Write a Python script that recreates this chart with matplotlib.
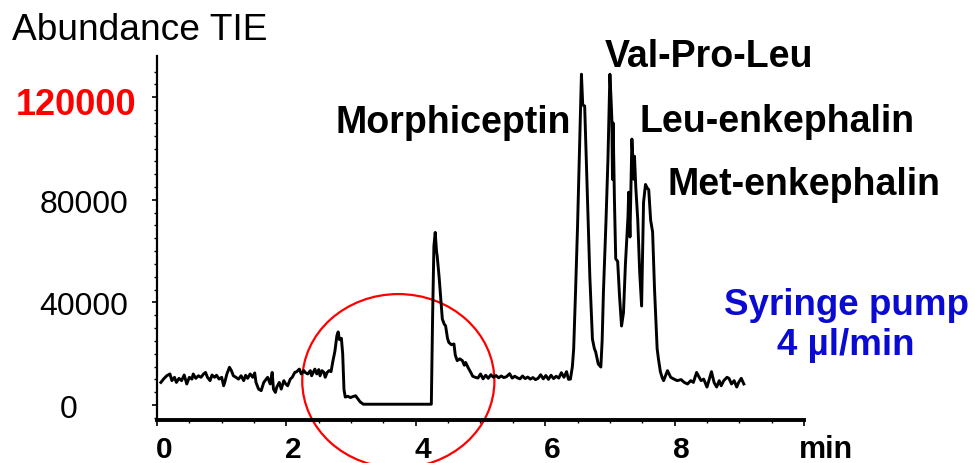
import numpy as np
import matplotlib.pyplot as plt
from matplotlib.patches import Ellipse
from matplotlib.transforms import ScaledTranslation, blended_transform_factory

plt.rcParams['font.family'] = ['Liberation Sans', 'DejaVu Sans']

# trace: time (min), abundance (x1000)
t_base1 = [0.06, 0.10, 0.15, 0.20, 0.23, 0.27, 0.30, 0.34, 0.38, 0.42,
           0.46, 0.50, 0.54, 0.56, 0.60, 0.64, 0.68, 0.72, 0.75, 0.78,
           0.82, 0.85, 0.89, 0.92, 0.96, 1.00, 1.03, 1.05, 1.08, 1.12,
           1.15, 1.18, 1.22, 1.26, 1.30, 1.34, 1.37, 1.40, 1.44, 1.48,
           1.51, 1.53, 1.57, 1.61, 1.65, 1.67, 1.71, 1.75, 1.78, 1.80,
           1.83, 1.85, 1.89, 1.92, 1.96, 1.99, 2.02, 2.06, 2.09, 2.13,
           2.16, 2.20, 2.23, 2.27, 2.29, 2.33, 2.37, 2.39, 2.44, 2.47,
           2.50, 2.52, 2.55, 2.58, 2.60, 2.63, 2.66, 2.69]
v_base1 = [8.8, 10.1, 11.4, 12.1, 9.5, 10.8, 8.8, 10.4, 9.5, 11.7,
           8.2, 10.8, 10.1, 12.1, 10.4, 11.4, 10.8, 12.1, 12.7, 10.8,
           9.5, 11.7, 10.8, 11.6, 10.1, 10.8, 7.5, 9.1, 12.1, 14.7,
           13.4, 11.4, 10.8, 10.1, 11.4, 9.5, 11.6, 10.4, 12.1, 10.8,
           12.5, 8.8, 6.2, 5.6, 8.8, 9.5, 10.8, 8.2, 12.7, 6.2,
           4.9, 6.9, 8.8, 6.2, 9.5, 8.2, 7.5, 10.1, 10.8, 12.7,
           13.0, 14.0, 12.1, 13.4, 12.7, 12.1, 13.4, 11.4, 14.0, 12.1,
           13.8, 11.4, 13.4, 12.7, 10.8, 12.7, 13.4, 13.0]

t_gap = [2.72, 2.75, 2.78, 2.80, 2.82, 2.85, 2.87, 2.89, 2.91, 2.95,
         2.99, 3.03, 3.07, 3.10, 3.14, 3.19, 4.24, 4.26, 4.28, 4.30,
         4.32, 4.33, 4.36, 4.39, 4.41, 4.44, 4.46, 4.49, 4.51, 4.55,
         4.59, 4.61, 4.64, 4.68, 4.72, 4.75, 4.77, 4.81, 4.85, 4.88,
         4.92]
v_gap = [17.3, 21.0, 27.0, 28.5, 25.5, 26.0, 20.0, 6.0, 3.1, 3.4,
         2.9, 3.3, 3.6, 2.6, 1.2, 0.3, 0.3, 35.0, 62.0, 67.3,
         60.0, 58.2, 50.0, 40.0, 33.5, 31.5, 30.9, 26.0, 24.4, 23.5,
         23.8, 19.5, 17.3, 18.0, 17.3, 15.5, 16.6, 14.5, 12.7, 11.2,
         10.8]

t_base2 = [4.96, 5.00, 5.04, 5.08, 5.12, 5.16, 5.20, 5.24, 5.28, 5.32,
           5.36, 5.40, 5.45, 5.49, 5.53, 5.57, 5.61, 5.65, 5.69, 5.73,
           5.77, 5.81, 5.85, 5.89, 5.93, 5.97, 6.01, 6.05, 6.09, 6.13,
           6.17, 6.21, 6.25, 6.29, 6.33, 6.36]
v_base2 = [10.5, 12.1, 10.2, 11.6, 10.4, 11.8, 10.8, 11.5, 10.6, 11.3,
           10.7, 11.0, 12.2, 10.5, 11.2, 10.6, 10.2, 11.3, 10.3, 10.9,
           10.1, 10.7, 9.9, 10.4, 11.8, 10.2, 11.5, 10.0, 11.6, 10.3,
           11.2, 10.5, 12.6, 10.8, 13.0, 10.0]

t_peaks = [6.39, 6.42, 6.44, 6.47, 6.50, 6.53, 6.56, 6.58, 6.61, 6.63,
           6.66, 6.69, 6.73, 6.76, 6.78, 6.82, 6.86, 6.88, 6.90, 6.94,
           6.97, 7.00, 7.02, 7.03, 7.04, 7.05, 7.07, 7.09, 7.12, 7.15,
           7.18, 7.21, 7.24, 7.28, 7.29, 7.31, 7.34, 7.37, 7.38, 7.40,
           7.43, 7.46, 7.49, 7.52, 7.55, 7.58, 7.60, 7.63, 7.66, 7.69,
           7.71, 7.73, 7.75]
v_peaks = [10.1, 15.0, 21.8, 45.0, 69.8, 100.0, 129.0, 117.0, 116.6, 100.0,
           76.4, 50.0, 25.7, 22.0, 20.7, 16.0, 14.8, 25.0, 44.0, 72.0,
           96.0, 129.0, 118.0, 111.5, 88.0, 110.0, 80.0, 57.0, 56.0, 42.0,
           30.8, 36.0, 55.0, 73.7, 83.0, 65.5, 103.7, 88.0, 97.0, 85.0,
           72.5, 52.0, 38.6, 79.0, 86.0, 84.5, 84.0, 72.0, 67.5, 45.0,
           33.5, 22.0, 18.0]

t_base3 = [7.78, 7.81, 7.83, 7.86, 7.89, 7.94, 7.99, 8.04, 8.10, 8.15,
           8.20, 8.25, 8.29, 8.34, 8.38, 8.41, 8.45, 8.50, 8.53, 8.57,
           8.61, 8.65, 8.69, 8.72, 8.76, 8.81, 8.84, 8.88, 8.92, 8.96,
           8.99, 9.03, 9.07]
v_base3 = [13.0, 10.5, 9.5, 11.5, 13.4, 10.8, 10.1, 9.5, 9.9, 8.8,
           8.2, 9.5, 8.8, 12.7, 10.8, 9.5, 10.1, 7.0, 9.5, 13.0,
           8.8, 7.0, 9.5, 7.5, 9.5, 10.8, 10.4, 8.2, 9.5, 7.0,
           8.8, 10.4, 8.2]

x_ticks = [0, 2, 4, 6, 8]
x_labels = ['0', '2', '4', '6', '8']
y_ticks = [0, 40, 80, 120]
y_labels = ['0', '40000', '80000', '120000']

time = np.concatenate([t_base1, t_gap, t_base2, t_peaks, t_base3])
abund = np.concatenate([v_base1, v_gap, v_base2, v_peaks, v_base3])

W, H = 975, 464
fig = plt.figure(figsize=(W / 100, H / 100), dpi=100)
ax = fig.add_axes([157 / W, 1 - 421 / H, (804 - 157) / W, (421 - 57) / H])

ax.plot(time, abund, color='black', lw=2.1, solid_joinstyle='round')
ax.set_xlim(0, 10)
ax.set_ylim(-5.85, 136.1)

for s in ['top', 'right']:
    ax.spines[s].set_visible(False)
ax.spines['left'].set_linewidth(1.6)
ax.spines['bottom'].set_linewidth(2.8)

ax.set_xticks(x_ticks + [10])
ax.set_xticks(np.arange(0, 10.01, 0.5), minor=True)
ax.set_yticks(y_ticks)
ax.set_yticks(np.arange(-5, 131, 5), minor=True)
ax.tick_params(axis='x', which='major', length=4.3, width=1.2, labelbottom=False)
ax.tick_params(axis='x', which='minor', length=2.5, width=1.0)
ax.tick_params(axis='y', which='major', length=3.6, width=1.2, labelleft=False)
ax.tick_params(axis='y', which='minor', length=2.2, width=1.0)

# x tick labels (bold, sit slightly right of ticks)
tx = blended_transform_factory(ax.transData, fig.transFigure)
for xv, lab in zip(x_ticks, x_labels):
    ax.text(xv, 1 - 458 / H, lab, transform=tx + ScaledTranslation(0.07, 0, fig.dpi_scale_trans),
            ha='center', va='baseline', fontsize=21.5, fontweight='bold')
ax.text(10, 1 - 458 / H, 'min', transform=tx + ScaledTranslation(-0.05, 0, fig.dpi_scale_trans),
        ha='left', va='baseline', fontsize=22, fontweight='bold')

# y tick labels
ty = blended_transform_factory(fig.transFigure, ax.transData)
y_lab_x = [69, 84, 84, 76]
for yv, lab, xc in zip(y_ticks, y_labels, y_lab_x):
    if lab == '120000':
        ax.text(xc / W, yv, lab, transform=ty + ScaledTranslation(0, -0.17, fig.dpi_scale_trans),
                ha='center', va='baseline', fontsize=26, fontweight='bold', color='#ff0000')
    else:
        ax.text(xc / W, yv, lab, transform=ty + ScaledTranslation(0, -0.12, fig.dpi_scale_trans),
                ha='center', va='baseline', fontsize=23)

fig.text(12 / W, 1 - 40 / H, 'Abundance TIE', ha='left', va='baseline', fontsize=26.7)

bold = dict(fontsize=27, fontweight='bold', va='baseline', ha='left')
fig.text(605 / W, 1 - 67 / H, 'Val-Pro-Leu', **bold)
fig.text(336 / W, 1 - 133 / H, 'Morphiceptin', **bold)
fig.text(640 / W, 1 - 132 / H, 'Leu-enkephalin', **bold)
fig.text(668 / W, 1 - 195 / H, 'Met-enkephalin', **bold)

blue = '#0a0ad2'
fig.text(846 / W, 1 - 315 / H, 'Syringe pump', ha='center', va='baseline',
         fontsize=26.5, fontweight='bold', color=blue)
fig.text(846 / W, 1 - 355 / H, '4 µl/min', ha='center', va='baseline',
         fontsize=26.5, fontweight='bold', color=blue)

ax.add_patch(Ellipse((3.73, 9.36), 2.97, 67.8, fill=False, ec='#ff0000', lw=1.6, clip_on=False))

fig.savefig('out.png', dpi=100)
